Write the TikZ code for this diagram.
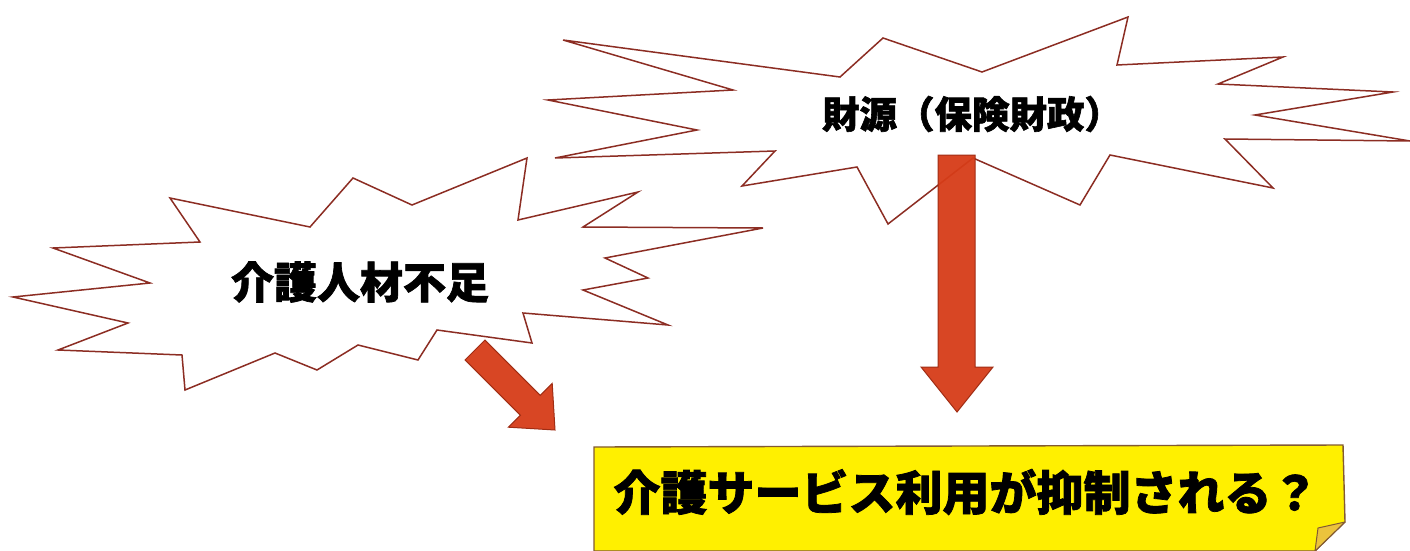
\documentclass[tikz,border=0pt]{standalone}
\usepackage{fontspec}
\newfontfamily\cjk{Noto Sans CJK JP}[BoldFeatures={FakeBold=1.6}]
\definecolor{starc}{RGB}{140,45,35}
\definecolor{arrowc}{RGB}{214,60,24}
\definecolor{arrowd}{RGB}{160,45,20}
\definecolor{boxy}{RGB}{255,240,0}
\definecolor{boxd}{RGB}{130,90,50}
\definecolor{folded}{RGB}{235,195,60}
\begin{document}
\begin{tikzpicture}[x=1pt,y=-1pt,
  burst/.style={draw=starc, fill=white, line width=1.5pt, line join=miter},
  blockarrow/.style={fill=arrowc, draw=arrowd, line width=1pt, fill opacity=0.95},
  lbl/.style={inner sep=0pt, text=black, font=\cjk\bfseries},
  notebox/.style={fill=boxy, draw=boxd, line width=1.4pt, line join=miter}]
\useasboundingbox (0,0) rectangle (1410,551);
% big burst
\draw[burst] (563,40) -- (840,77) -- (883,38) -- (982,72) -- (1128,17) -- (1117,65)
  -- (1283,57) -- (1218,84) -- (1393,92) -- (1255,115) -- (1410,141) -- (1225,139)
  -- (1273,188) -- (1110,155) -- (1080,205) -- (973,158) -- (888,224) -- (857,167)
  -- (742,186) -- (775,151) -- (555,158) -- (697,130) -- (548,100) -- (733,90) -- cycle;
% small burst
\draw[burst] (170,198) -- (310,227) -- (353,178) -- (412,205) -- (527,158) -- (518,220)
  -- (638,192) -- (583,227) -- (763,228) -- (605,258) -- (648,278) -- (583,290)
  -- (668,325) -- (523,313) -- (532,343) -- (437,330) -- (418,360) -- (358,345)
  -- (317,370) -- (275,353) -- (185,390) -- (182,355) -- (58,350) -- (128,323)
  -- (13,297) -- (150,283) -- (53,248) -- (200,242) -- cycle;
% labels
\node[lbl, font=\cjk\bfseries\fontsize{43}{43}\selectfont] (shortage) at (360,282) {介護人材不足};
\node[lbl, font=\cjk\bfseries\fontsize{37.5}{38}\selectfont] (finance) at (972,114) {財源（保険財政）};
% yellow note
\draw[notebox] (594,447) -- (1343,445) -- (1345,522) -- (1315,551) -- (594,551) -- cycle;
\draw[fill=folded, draw=boxd, line width=1pt, line join=round] (1345,522) -- (1318,528) -- (1315,551) -- cycle;
\node[lbl, font=\cjk\bfseries\fontsize{47}{47}\selectfont] (result) at (966,492) {介護サービス利用が抑制される？};
% arrows
\coordinate (a1) at (475,350);
\coordinate (a2) at (555,430);
\draw[blockarrow] (484.9,340.1) -- (540.2,395.4) -- (552.2,383.4) -- (a2)
  -- (508.4,427.2) -- (520.4,415.2) -- (465.1,359.9) -- cycle;
\coordinate (b1) at (957,155);
\coordinate (b2) at (957,412);
\draw[blockarrow] (938,155) -- (975,155) -- (975,367) -- (993,367) -- (b2)
  -- (921,367) -- (938,367) -- cycle;
\end{tikzpicture}
\end{document}
